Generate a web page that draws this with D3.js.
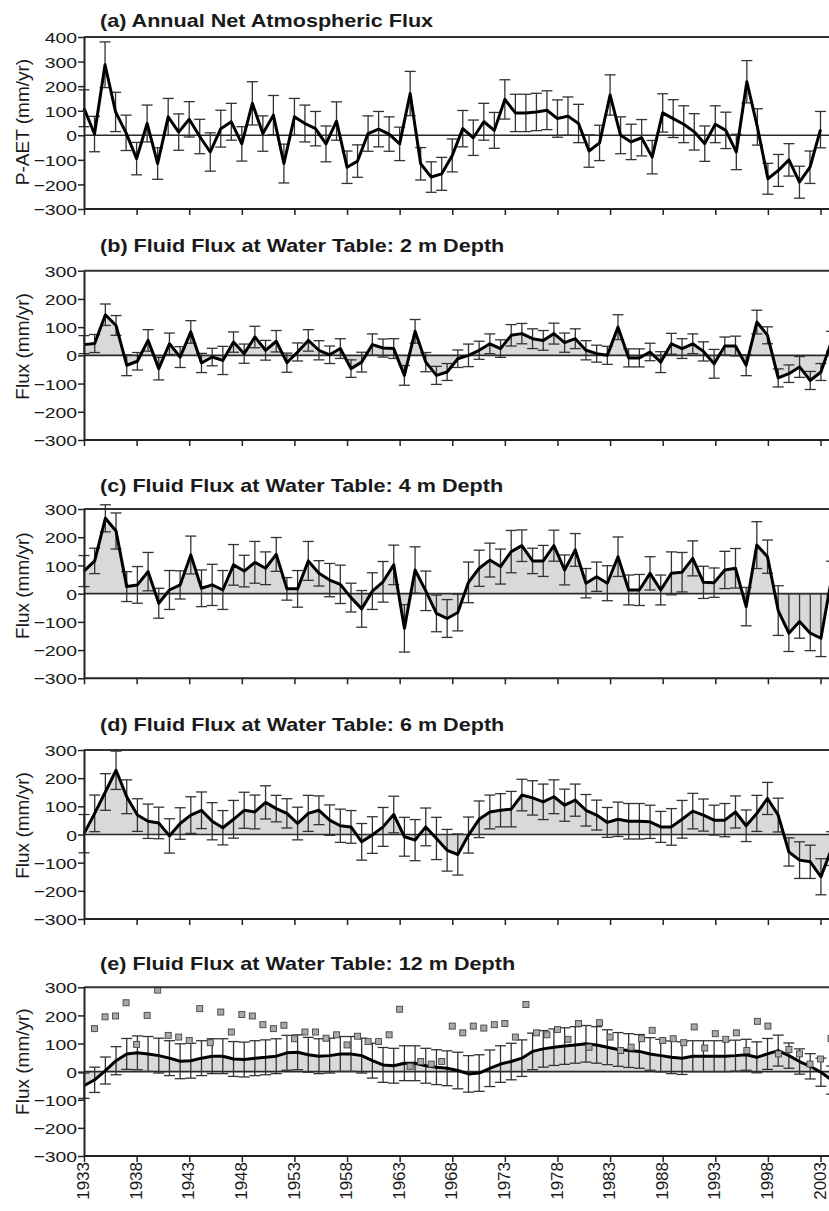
<!DOCTYPE html>
<html>
<head>
<meta charset="utf-8">
<script src="https://cdn.jsdelivr.net/npm/d3@7"></script>
<style>
  body { margin: 0; background: #fff; }
  text { font-family: Arial, "Liberation Sans", sans-serif; fill: #1a1a1a; }
</style>
</head>
<body>
<div id="chart"></div>
<script>

// ---- data ----
var years = d3.range(1933, 2004);          // 1933 .. 2003
var squareYears = d3.range(1934, 2005);    // 1934 .. 2004
var tickYears = [1933, 1938, 1943, 1948, 1953, 1958, 1963, 1968, 1973, 1978, 1983, 1988, 1993, 1998, 2003];

var fluxA = [110, 5, 287, 95, 10, -95, 48, -115, 75, 13,
  65, -5, -68, 27, 55, -35, 130, 7, 82, -115,
  75, 48, 27, -35, 58, -130, -105, 7, 25, 5,
  -35, 170, -116, -170, -157, -82, 27, -10, 55, 20,
  146, 91, 91, 95, 102, 68, 78, 48, -64, -31,
  164, 0, -27, -10, -89, 91, 68, 45, 14, -34,
  45, 20, -68, 218, 34, -177, -143, -100, -191, -130, 23];
var errA = [75, 72, 93, 80, 72, 66, 75, 64, 75, 74,
  72, 70, 78, 75, 75, 70, 88, 72, 80, 79,
  75, 75, 70, 73, 78, 66, 66, 72, 72, 70,
  68, 90, 66, 62, 67, 67, 74, 72, 75, 73,
  80, 76, 76, 76, 79, 76, 78, 78, 66, 72,
  82, 75, 72, 74, 68, 78, 77, 75, 74, 72,
  75, 74, 72, 86, 74, 63, 65, 66, 65, 66, 74];

var fluxB = [38, 42, 144, 106, -35, -21, 53, -47, 41, -6,
  83, -27, -6, -18, 47, 6, 65, 18, 50, -26,
  12, 53, 18, 2, 24, -47, -24, 38, 26, 24,
  -71, 85, -24, -71, -59, -12, 0, 18, 41, 24,
  71, 77, 59, 53, 77, 45, 59, 18, 6, 0,
  100, -9, -9, 12, -24, 41, 24, 41, 14, -30,
  33, 33, -35, 118, 71, -80, -65, -41, -89, -59, 50];
var errB = [32, 32, 38, 35, 37, 31, 38, 40, 38, 37,
  40, 34, 31, 50, 36, 34, 38, 35, 38, 34,
  32, 38, 34, 31, 35, 31, 35, 38, 32, 35,
  35, 42, 34, 32, 30, 31, 40, 32, 35, 31,
  38, 36, 35, 35, 37, 34, 35, 34, 30, 32,
  44, 32, 32, 31, 37, 37, 35, 35, 34, 51,
  32, 35, 37, 42, 30, 32, 31, 37, 32, 30, 35];

var fluxC = [80, 116, 267, 222, 25, 31, 78, -34, 13, 31,
  137, 19, 31, 13, 102, 80, 111, 90, 139, 17,
  17, 116, 72, 48, 33, -14, -54, 9, 42, 102,
  -123, 84, 10, -70, -88, -67, 40, 90, 119, 96,
  149, 170, 116, 116, 170, 84, 155, 37, 60, 37,
  131, 13, 13, 72, 13, 72, 76, 125, 40, 39,
  84, 90, -46, 172, 131, -60, -140, -99, -140, -158, 55];
var errC = [55, 45, 48, 64, 53, 65, 68, 53, 69, 50,
  67, 65, 73, 69, 72, 56, 74, 58, 60, 40,
  65, 69, 45, 59, 68, 51, 65, 65, 72, 70,
  84, 82, 70, 65, 67, 65, 72, 64, 60, 62,
  75, 56, 45, 55, 55, 53, 58, 52, 52, 62,
  70, 53, 55, 59, 53, 76, 70, 62, 57, 52,
  66, 70, 68, 83, 59, 88, 65, 59, 62, 65, 60];
// in (c) the upper end of these bars sits on zero
var cTopYears = [1999, 2000, 2001, 2002];
var cTopValues = [0, 0, 0, 0];

var fluxD = [3, 75, 151, 228, 134, 69, 47, 41, -5, 39,
  69, 86, 47, 24, 54, 86, 80, 114, 92, 75,
  39, 75, 86, 51, 31, 27, -26, -2, 27, 71,
  -8, -20, 27, -14, -56, -71, -2, 54, 80, 86,
  90, 140, 130, 116, 134, 104, 122, 86, 69, 43,
  54, 47, 47, 45, 27, 27, 54, 83, 69, 51,
  51, 80, 31, 75, 128, 69, -62, -91, -97, -150, -50];
var errD = [68, 65, 65, 68, 60, 58, 61, 56, 61, 56,
  65, 65, 66, 61, 67, 64, 60, 59, 47, 52,
  58, 64, 51, 54, 59, 58, 65, 65, 69, 65,
  69, 73, 67, 75, 74, 73, 64, 65, 60, 59,
  63, 56, 61, 63, 60, 57, 57, 56, 53, 53,
  61, 63, 63, 59, 55, 65, 67, 63, 57, 53,
  59, 57, 56, 64, 57, 60, 50, 65, 59, 64, 60];

var fluxE = [-50, -29, 4, 39, 63, 67, 63, 57, 48, 37,
  39, 48, 55, 55, 45, 43, 48, 51, 55, 67,
  69, 60, 55, 57, 63, 63, 57, 39, 24, 21,
  30, 30, 21, 16, 12, 4, -8, -5, 12, 27,
  36, 48, 72, 81, 87, 91, 95, 99, 95, 87,
  79, 75, 72, 63, 57, 51, 48, 55, 55, 55,
  55, 57, 60, 51, 63, 75, 57, 36, 19, -2, -30];
var errE = [45, 45, 48, 50, 55, 60, 62, 62, 62, 62,
  62, 62, 62, 62, 62, 62, 62, 62, 62, 62,
  62, 62, 62, 62, 62, 62, 62, 62, 62, 62,
  62, 62, 62, 62, 62, 65, 65, 65, 65, 65,
  65, 65, 65, 65, 65, 65, 65, 65, 65, 62,
  60, 60, 60, 58, 58, 58, 58, 55, 55, 55,
  55, 55, 55, 55, 55, 55, 45, 45, 45, 50, 50];
var squaresE = [153, 195, 198, 245, 97, 200, 290, 129, 123, 111,
  224, 103, 212, 141, 203, 198, 167, 153, 165, 117,
  141, 141, 119, 131, 95, 126, 107, 107, 131, 222,
  19, 36, 27, 36, 162, 138, 162, 155, 167, 171,
  123, 239, 138, 131, 150, 115, 171, 87, 174, 123,
  75, 87, 117, 147, 111, 117, 103, 159, 84, 135,
  115, 138, 75, 179, 162, 63, 79, 63, 27, 45, 118];

var titles = ["(a)  Annual Net Atmospheric Flux",
  "(b)  Fluid Flux at Water Table: 2 m Depth",
  "(c)  Fluid Flux at Water Table: 4 m Depth",
  "(d)  Fluid Flux at Water Table: 6 m Depth",
  "(e)  Fluid Flux at Water Table: 12 m Depth"];
var yLabels = ["P-AET (mm/yr)", "Flux (mm/yr)", "Flux (mm/yr)", "Flux (mm/yr)", "Flux (mm/yr)"];
var yTicksA = [-300, -200, -100, 0, 100, 200, 300, 400];
var yTicks = [-300, -200, -100, 0, 100, 200, 300];

// ---- layout ----
var width = 829;
var height = 1211;
var left = 84;

var svg = d3.select("#chart")
  .append("svg")
  .attr("width", width)
  .attr("height", height);

// tick axis and annual-flux series share one spacing, the water-table series a slightly wider one
var xTick = d3.scaleLinear().domain([1933, 2003]).range([left, 820.5]);
var xFlux = d3.scaleLinear().domain([1933, 2003]).range([left, 831.6]);

var panels = [
  {values: fluxA, errors: errA, ticks: yTicksA, x: xTick, fill: false, top: 37, bottom: 209, titleY: 27, labelShift: -1},
  {values: fluxB, errors: errB, ticks: yTicks, x: xFlux, fill: true, top: 270.7, bottom: 440, titleY: 252, labelShift: -9},
  {values: fluxC, errors: errC, ticks: yTicks, x: xFlux, fill: true, top: 509, bottom: 678.3, titleY: 492, labelShift: -8},
  {values: fluxD, errors: errD, ticks: yTicks, x: xFlux, fill: true, top: 750, bottom: 919, titleY: 731, labelShift: -9},
  {values: fluxE, errors: errE, ticks: yTicks, x: xFlux, fill: true, top: 987.3, bottom: 1156, titleY: 970, labelShift: -10}
];

var stretch = 1.2;   // lettering in the figure is drawn a little wide

panels.forEach(function(p, k) {
  var y = d3.scaleLinear()
    .domain([p.ticks[0], p.ticks[p.ticks.length - 1]])
    .range([p.bottom, p.top]);

  var rows = years.map(function(yr, i) {
    var lo = p.values[i] - p.errors[i];
    var hi = p.values[i] + p.errors[i];
    if (k == 2 && cTopYears.indexOf(yr) >= 0) hi = cTopValues[cTopYears.indexOf(yr)];
    return {year: yr, v: p.values[i], lo: lo, hi: hi};
  });

  var g = svg.append("g");

  if (p.fill) {
    g.append("path")
      .datum(rows)
      .attr("d", d3.area()
        .x(function(d) { return p.x(d.year); })
        .y0(y(0))
        .y1(function(d) { return y(d.v); }))
      .attr("fill", "#d9d9d9");
  }

  // zero line
  g.append("line")
    .attr("x1", left).attr("x2", width)
    .attr("y1", y(0)).attr("y2", y(0))
    .attr("stroke", "#2a2a2a")
    .attr("stroke-width", 1.6);

  // error bars
  var bars = g.selectAll(".bar")
    .data(rows)
    .enter()
    .append("g")
    .attr("class", "bar")
    .attr("stroke", "#333")
    .attr("stroke-width", 1.3);

  bars.append("line")
    .attr("x1", function(d) { return p.x(d.year); })
    .attr("x2", function(d) { return p.x(d.year); })
    .attr("y1", function(d) { return y(d.lo); })
    .attr("y2", function(d) { return y(d.hi); });
  bars.append("line")
    .attr("x1", function(d) { return p.x(d.year) - 5.5; })
    .attr("x2", function(d) { return p.x(d.year) + 5.5; })
    .attr("y1", function(d) { return y(d.lo); })
    .attr("y2", function(d) { return y(d.lo); });
  bars.append("line")
    .attr("x1", function(d) { return p.x(d.year) - 5.5; })
    .attr("x2", function(d) { return p.x(d.year) + 5.5; })
    .attr("y1", function(d) { return y(d.hi); })
    .attr("y2", function(d) { return y(d.hi); });

  // the series
  g.append("path")
    .datum(rows)
    .attr("d", d3.line()
      .x(function(d) { return p.x(d.year); })
      .y(function(d) { return y(d.v); }))
    .attr("fill", "none")
    .attr("stroke", "#000")
    .attr("stroke-width", 3)
    .attr("stroke-linejoin", "round");

  if (k == 4) {
    g.selectAll(".sq")
      .data(squaresE)
      .enter()
      .append("rect")
      .attr("class", "sq")
      .attr("x", function(d, i) { return xTick(squareYears[i]) - 3; })
      .attr("y", function(d) { return y(d) - 3; })
      .attr("width", 6)
      .attr("height", 6)
      .attr("fill", "#a9a9a9")
      .attr("stroke", "#444")
      .attr("stroke-width", 0.9);
  }

  // frame: top line, bottom line
  g.append("line")
    .attr("x1", left).attr("x2", width)
    .attr("y1", p.top).attr("y2", p.top)
    .attr("stroke", "#333").attr("stroke-width", 2);
  g.append("line")
    .attr("x1", left).attr("x2", width)
    .attr("y1", p.bottom).attr("y2", p.bottom)
    .attr("stroke", "#222").attr("stroke-width", 2);

  // y axis
  var yAxis = g.append("g")
    .attr("transform", "translate(" + left + ",0)")
    .call(d3.axisLeft(y).tickValues(p.ticks).tickSize(6).tickSizeOuter(0));
  yAxis.select(".domain").attr("stroke", "#222").attr("stroke-width", 2);
  yAxis.selectAll(".tick line").attr("stroke", "#222").attr("stroke-width", 1.5);
  yAxis.selectAll(".tick text")
    .attr("x", -7 / 1.25)
    .attr("dy", "0.36em")
    .attr("transform", "scale(1.25,1)")
    .style("font-size", "15.5px")
    .style("fill", "#1a1a1a");

  // x ticks
  var xAxis = g.append("g")
    .attr("transform", "translate(0," + p.bottom + ")")
    .call(d3.axisBottom(xTick).tickValues(tickYears).tickFormat(d3.format("d")).tickSize(6).tickSizeOuter(0));
  xAxis.select(".domain").remove();
  xAxis.selectAll(".tick line").attr("stroke", "#222").attr("stroke-width", 1.5);
  if (k == 4) {
    xAxis.selectAll(".tick text")
      .attr("transform", "rotate(-90)")
      .attr("x", -6)
      .attr("y", -1.5)
      .attr("dy", "0.36em")
      .attr("text-anchor", "end")
      .style("font-size", "17px")
      .style("fill", "#1a1a1a");
  } else {
    xAxis.selectAll(".tick text").remove();
  }

  // title
  svg.append("text")
    .attr("transform", "translate(100," + p.titleY + ") scale(" + stretch + ",1)")
    .style("font-size", "18px")
    .style("font-weight", "bold")
    .text(titles[k]);

  // y label
  svg.append("text")
    .attr("transform", "translate(23.5," + ((p.top + p.bottom) / 2 + p.labelShift) + ") rotate(-90)")
    .attr("text-anchor", "middle")
    .attr("dy", "0.3em")
    .style("font-size", "19px")
    .text(yLabels[k]);
});

</script>
</body>
</html>
